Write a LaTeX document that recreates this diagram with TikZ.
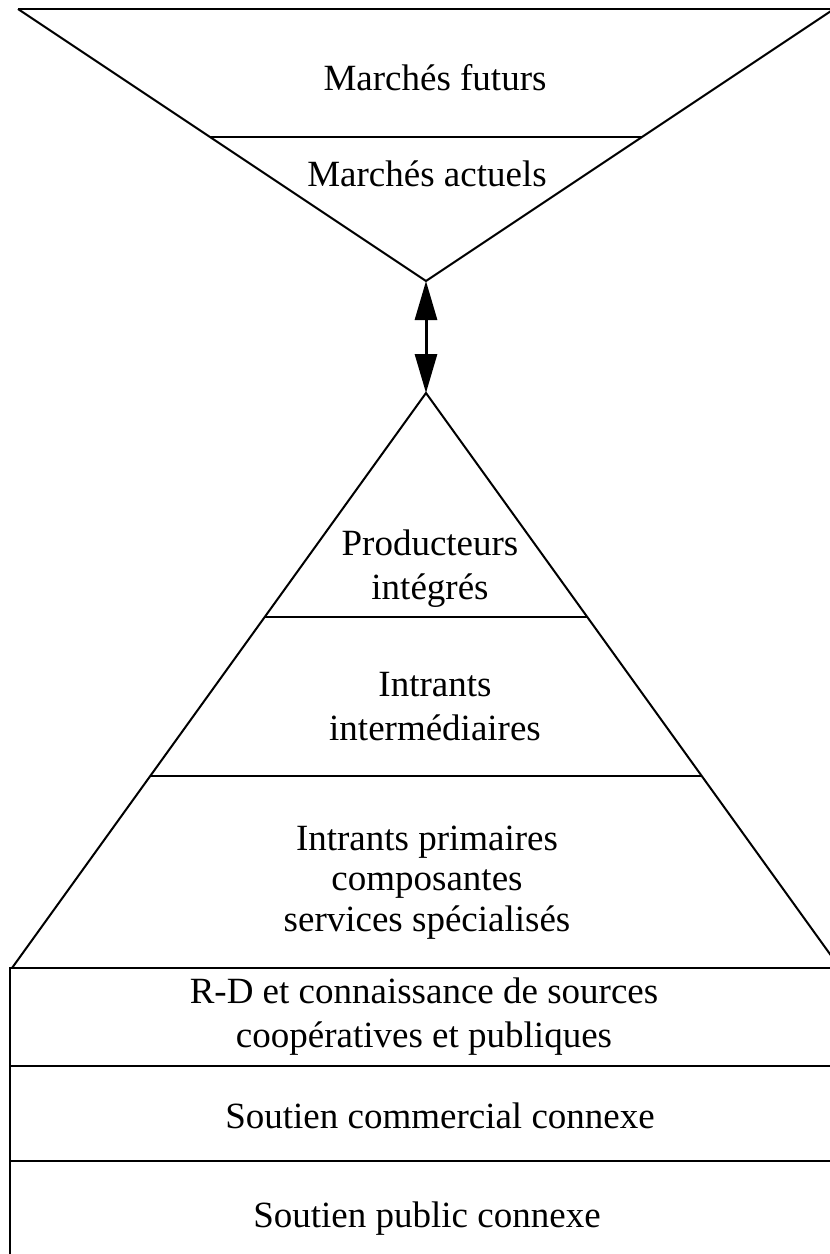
\documentclass[tikz,border=0pt]{standalone}
\usepackage{fontspec}
\setmainfont{Liberation Serif}
\usetikzlibrary{arrows.meta,calc}

\tikzset{
  edgeline/.style={line width=2pt, line join=miter},
  rule/.style={line width=2.6pt},
  % multi-line labels are placed by the baseline of their last line
  lbl/.style={font=\fontsize{37}{43.5}\selectfont, align=center, inner sep=0pt, anchor=base},
  bigtip/.tip={Triangle[length=39pt,width=22pt]},
}

\begin{document}
\begin{tikzpicture}[x=1pt,y=-1pt]
\useasboundingbox (0,0) rectangle (830,1254);
\clip (0,0) rectangle (830,1254);

% markets funnel (inverted triangle)
\coordinate (mtl) at (18,9);
\coordinate (mtr) at (834,9);
\coordinate (mapex) at (426,281);
\coordinate (mdl) at ($(mtl)!128/272!(mapex)$);
\coordinate (mdr) at ($(mtr)!128/272!(mapex)$);
\draw[edgeline] (mtl) -- (mapex) -- (mtr);
\draw[rule] (mtl) -- (mtr);
\draw[rule] (mdl) -- (mdr);

\node[lbl] (futurs) at (435,90) {Marchés futurs};
\node[lbl] (actuels) at (427,186) {Marchés actuels};

% production pyramid
\coordinate (papex) at (426,393);
\coordinate (pbl) at (12,968);
\coordinate (pbr) at (840,968);
\coordinate (p1l) at ($(papex)!224/575!(pbl)$);
\coordinate (p1r) at ($(papex)!224/575!(pbr)$);
\coordinate (p2l) at ($(papex)!383/575!(pbl)$);
\coordinate (p2r) at ($(papex)!383/575!(pbr)$);
\draw[edgeline] (pbl) -- (papex) -- (pbr);
\draw[rule] (p1l) -- (p1r);
\draw[rule] (p2l) -- (p2r);

\node[lbl] (integres) at (430,599) {Producteurs\\intégrés};
\node[lbl] (intermed) at (435,740) {Intrants\\intermédiaires};
\node[lbl, font=\fontsize{37}{40.5}\selectfont] (primaires) at (427,931)
  {Intrants primaires\\composantes\\services spécialisés};

% two-way link between markets and producers
\draw[line width=3pt, bigtip-bigtip] (mapex) -- (papex);

% support base
\coordinate (bl) at (10,968);
\coordinate (br) at (850,1270);
\draw[edgeline] (bl) rectangle (br);
\draw[rule] (bl) -- (bl -| br);
\draw[rule] (10,1066) -- (850,1066);
\draw[rule] (10,1161) -- (850,1161);

\node[lbl] (rd) at (424,1047) {R-D et connaissance de sources\\coopératives et publiques};
\node[lbl] (commercial) at (440,1128) {Soutien commercial connexe};
\node[lbl] (public) at (427,1227) {Soutien public connexe};
\end{tikzpicture}
\end{document}
